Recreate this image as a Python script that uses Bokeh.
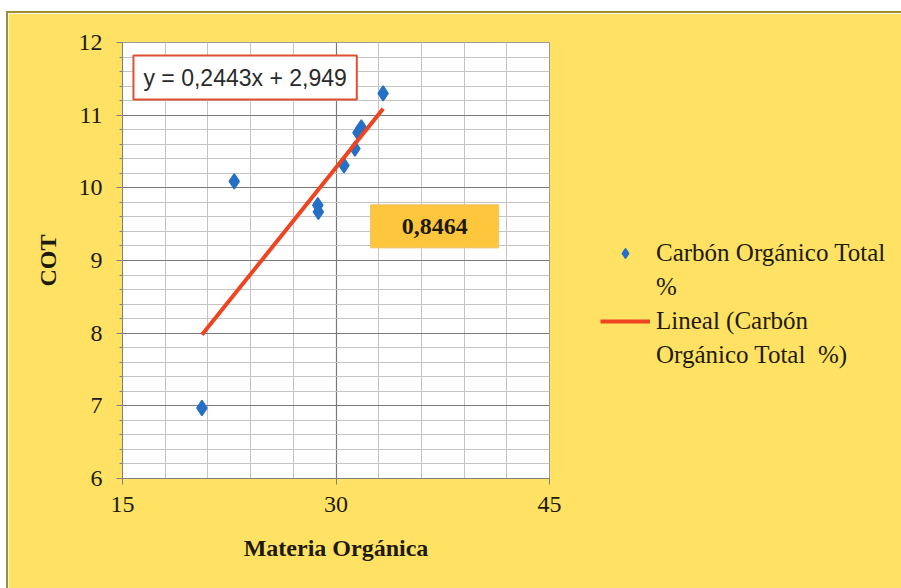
from bokeh.plotting import figure
from bokeh.layouts import column, row
from bokeh.models import (Range1d, SingleIntervalTicker, Label, Legend, LegendItem,
                          ColumnDataSource, Spacer, CDSView, IndexFilter)
from bokeh.embed import file_html
from bokeh.resources import INLINE

# ---- data ----
materia_organica = [20.58, 22.85, 28.72, 28.76, 30.56, 31.33, 31.54, 31.78, 33.31]
cot = [6.97, 10.09, 9.76, 9.67, 10.31, 10.54, 10.76, 10.83, 11.30]
slope = 0.2443
intercept = 2.949
r2_text = "0,8464"
eq_text = "y = 0,2443x + 2,949"
series_label_lines = ["Carbón Orgánico Total", "%"]
trend_label_lines = ["Lineal (Carbón", "Orgánico Total  %)"]

BG = "#FFE264"
INK = "#1e1a08"
EDGE = "#9c8c3c"
BLUE = "#2470C6"

p = figure(frame_width=427, frame_height=436, output_backend="svg", toolbar_location=None,
           x_range=Range1d(15, 45), y_range=Range1d(6, 12),
           min_border_left=114, min_border_right=352, min_border_top=29,
           min_border_bottom=110)
p.border_fill_color = BG
p.background_fill_color = "white"
p.outline_line_color = "#9a9a9a"

p.xaxis.ticker = SingleIntervalTicker(interval=15, num_minor_ticks=5)
p.yaxis.ticker = SingleIntervalTicker(interval=1, num_minor_ticks=5)

for ax in (p.xaxis[0], p.yaxis[0]):
    ax.axis_line_color = "#808080"
    ax.major_tick_line_color = "#808080"
    ax.minor_tick_line_color = "#808080"
    ax.major_tick_in = 0
    ax.major_tick_out = 6
    ax.minor_tick_in = 0
    ax.minor_tick_out = 3
    ax.major_label_text_font = "Liberation Serif"
    ax.major_label_text_font_size = "24px"
    ax.major_label_text_color = INK
    ax.axis_label_text_font = "Liberation Serif"
    ax.axis_label_text_font_size = "24px"
    ax.axis_label_text_font_style = "bold"
    ax.axis_label_text_color = INK

p.xaxis.minor_tick_line_color = None
p.xaxis.axis_label = "Materia Orgánica"
p.xaxis.major_label_standoff = 12
p.xaxis.axis_label_standoff = 20
p.yaxis.axis_label = "COT"
p.yaxis.major_label_standoff = 14
p.yaxis.axis_label_standoff = 15

p.xgrid.grid_line_color = "#7a7a7a"
p.ygrid.grid_line_color = "#7a7a7a"
p.xgrid.minor_grid_line_color = "#c4c4c4"
p.ygrid.minor_grid_line_color = "#c4c4c4"
p.xgrid.grid_line_width = 1.2
p.ygrid.grid_line_width = 1.2

src = ColumnDataSource(dict(x=materia_organica, y=cot))
pts = p.scatter("x", "y", source=src, marker="diamond", size=15,
                fill_color=BLUE, line_color=BLUE, line_width=1.5)

xmin, xmax = min(materia_organica), max(materia_organica)
trend = p.line([xmin, xmax], [slope * xmin + intercept, slope * xmax + intercept],
               line_color="#EE4420", line_width=4)

# same data, nothing drawn: used only for the legend's continuation lines
blank = p.scatter("x", "y", source=src, view=CDSView(filter=IndexFilter(indices=[])),
                  alpha=0)

eq = Label(x=15.77, y=11.82, text=eq_text, anchor="top_left",
           text_font="Liberation Sans", text_font_size="23px", text_color="#2a2a2a",
           background_fill_color="white", border_line_color="#E05030",
           border_line_width=2, padding=(10, 10, 9, 9))
p.add_layout(eq)

r2 = Label(x=36.93, y=9.47, text=r2_text, anchor="center",
           text_font="Liberation Serif", text_font_size="24px", text_font_style="bold",
           text_color=INK, background_fill_color="#FDC63C",
           border_line_color="#F0C060", border_line_width=1,
           padding=(31, 31, 14, 14))
p.add_layout(r2)

legend = Legend(items=[LegendItem(label=series_label_lines[0], renderers=[pts]),
                       LegendItem(label=series_label_lines[1], renderers=[blank]),
                       LegendItem(label=trend_label_lines[0], renderers=[trend]),
                       LegendItem(label=trend_label_lines[1], renderers=[blank])],
                location=(51, 109), background_fill_alpha=0, border_line_color=None,
                label_text_font="Liberation Serif", label_text_font_size="25px",
                label_text_color=INK, glyph_width=50, glyph_height=24,
                spacing=6, label_standoff=6,
                padding=0, margin=0)
p.add_layout(legend, "right")

layout = column(
    Spacer(width=901, height=11),
    row(Spacer(width=6, height=577),
        Spacer(width=2, height=577, styles={"background-color": EDGE}),
        column(Spacer(width=893, height=2, styles={"background-color": EDGE}), p,
               spacing=0),
        spacing=0),
    spacing=0)

open("out.html", "w").write(file_html(layout, INLINE))
